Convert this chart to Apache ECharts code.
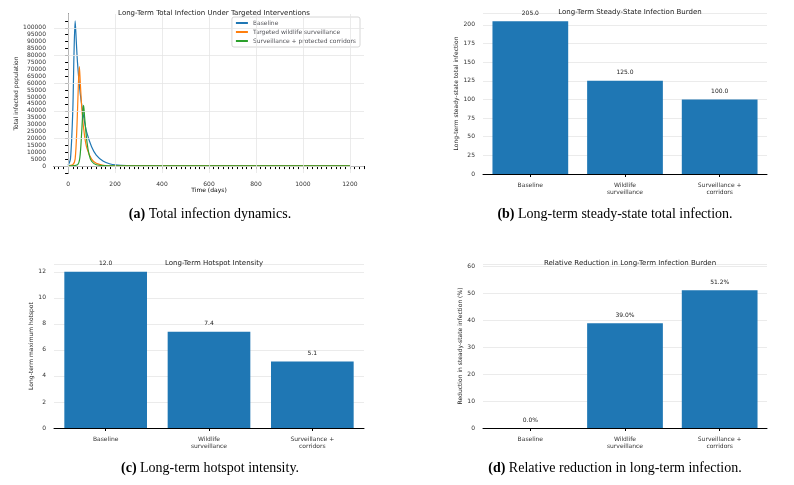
<!DOCTYPE html><html><head><meta charset="utf-8">
<script src="https://cdn.jsdelivr.net/npm/echarts@6/dist/echarts.min.js"></script>
<style>html,body{margin:0;background:#fff}#c{width:794px;height:485px}</style></head><body><div id="c"></div>
<script>
const seriesNames=['Baseline','Targeted wildlife surveillance','Surveillance + protected corridors'];
const baseline=[[0,500],[10,5000],[20,40000],[25,80000],[30,105000],[35,90000],[40,75000],[50,55000],[60,42000],[70,32000],[80,24000],[100,14000],[120,8000],[150,3500],[180,1500],[200,900],[250,300],[300,150],[400,200],[1200,205]];
const wildlife=[[0,200],[20,1000],[30,5000],[38,30000],[44,60000],[48,72000],[52,60000],[60,38000],[70,22000],[80,13000],[100,5000],[120,2000],[150,600],[200,200],[1200,125]];
const corridors=[[0,100],[40,1000],[50,6000],[58,25000],[63,40000],[66,44000],[70,36000],[80,18000],[90,8000],[100,3500],[120,1000],[150,300],[200,120],[1200,100]];
const barCats=['Baseline','Wildlife\nsurveillance','Surveillance +\ncorridors'];
const steady=[205,125,100];
const hotspot=[12.0,7.4,5.1];
const reduction=[0.0,39.0,51.2];
const F='DejaVu Sans';
const ax={axisLine:{lineStyle:{color:'#000'}},axisTick:{lineStyle:{color:'#000'},length:3},axisLabel:{fontSize:6,color:'#333',fontFamily:F}};
const grids=[{left:54,top:14,width:310,height:159},{left:483,top:13,width:284,height:161},{left:54,top:264,width:310,height:164},{left:483,top:264,width:284,height:164}];
const box=grids.map(g=>({show:true,borderColor:'#000',borderWidth:1,...g}));
function valAx(i,min,max,interval,name,fmt){return {type:'value',gridIndex:i,min,max,interval,name,nameLocation:'middle',nameGap:i==0?24:(i==2?20:14),nameTextStyle:{fontSize:6,fontFamily:F,color:'#222'},splitLine:{lineStyle:{color:'#e6e6e6',width:0.8}},...ax,axisLabel:{...ax.axisLabel,formatter:fmt||undefined,showMinLabel:true,showMaxLabel:false}};}
const yAxes=[valAx(0,-5000,110000,20000,'Total infected population'),valAx(1,0,216,25,'Long-term steady-state total infection'),valAx(2,0,12.6,2,'Long-term maximum hotspot'),valAx(3,0,61,10,'Reduction in steady-state infection (%)')];
yAxes[0].axisLabel.formatter=v=>v<0||v>100000?'':v;
yAxes[0].min=-5500;yAxes[0].interval=null;
yAxes[0].min=-5000;
const xAxes=[{type:'value',gridIndex:0,min:-62,max:1260,name:'Time (days)',nameLocation:'middle',nameGap:10,nameTextStyle:{fontSize:6,fontFamily:F},splitLine:{lineStyle:{color:'#e6e6e6',width:0.8}},...ax,axisLabel:{...ax.axisLabel,formatter:v=>(v%200===0&&v>=0&&v<=1200)?v:''},interval:null}];
xAxes[0].min=-60;xAxes[0].interval=20;
xAxes[0].splitLine.show=false;
for(let i=1;i<4;i++)xAxes.push({type:'category',gridIndex:i,data:barCats,...ax,axisTick:{show:true,alignWithLabel:true,length:3,lineStyle:{color:'#000'}},axisLabel:{...ax.axisLabel,lineHeight:7}});
yAxes[0].min=-5000;yAxes[0].interval=5000;
yAxes[0].splitLine.show=false;
const lbl=(fmt)=>({show:true,position:'top',fontSize:6,fontFamily:F,color:'#222',formatter:fmt});
const bar=(i,d,fmt)=>({type:'bar',xAxisIndex:i,yAxisIndex:i,data:d,barWidth:'80%',itemStyle:{color:'#1f77b4'},label:lbl(fmt),silent:true});
const mkVGrid=[];
const opt={animation:false,grid:grids,xAxis:xAxes,yAxis:yAxes,
title:[['Long-Term Total Infection Under Targeted Interventions',209,5],['Long-Term Steady-State Infection Burden',625,4],['Long-Term Hotspot Intensity',209,255],['Relative Reduction in Long-Term Infection Burden',625,255]].map(t=>({text:t[0],left:t[1],top:t[2],textAlign:'center',textStyle:{fontSize:7,fontWeight:'normal',fontFamily:F,color:'#222'}})),
legend:{data:seriesNames,right:434,top:17,orient:'vertical',itemWidth:12,itemHeight:2,itemGap:3,icon:'rect',textStyle:{fontSize:6,fontFamily:F},backgroundColor:'#fff',borderColor:'#ccc',borderWidth:0.8,padding:[3,4],borderRadius:2},
graphic:[
{type:'text',left:'center',x:0,style:{text:''}},
...[[210,214,'(a)',' Total infection dynamics.'],[615,214,'(b)',' Long-term steady-state total infection.'],[210,468,'(c)',' Long-term hotspot intensity.'],[615,468,'(d)',' Relative reduction in long-term infection.']].map(c=>({type:'text',x:c[0],y:c[1],style:{text:'{b|'+c[2]+'}'+c[3],align:'center',verticalAlign:'middle',font:'14px "Liberation Serif"',fill:'#000',rich:{b:{font:'bold 14px "Liberation Serif"',fill:'#000'}}}}))
],
series:[
{name:seriesNames[0],type:'line',xAxisIndex:0,yAxisIndex:0,data:baseline,smooth:0.3,symbol:'none',lineStyle:{width:1.2,color:'#1f77b4'},itemStyle:{color:'#1f77b4'}},
{name:seriesNames[1],type:'line',xAxisIndex:0,yAxisIndex:0,data:wildlife,smooth:0.3,symbol:'none',lineStyle:{width:1.2,color:'#ff7f0e'},itemStyle:{color:'#ff7f0e'}},
{name:seriesNames[2],type:'line',xAxisIndex:0,yAxisIndex:0,data:corridors,smooth:0.3,symbol:'none',lineStyle:{width:1.2,color:'#2ca02c'},itemStyle:{color:'#2ca02c'}},
bar(1,steady,p=>p.value.toFixed(1)),bar(2,hotspot,p=>p.value.toFixed(1)),bar(3,reduction,p=>p.value.toFixed(1)+'%')
]};
// grid lines for panel a at major ticks via markLine
opt.series[0].markLine={silent:true,symbol:'none',label:{show:false},lineStyle:{color:'#e6e6e6',type:'solid',width:0.8},data:[0,200,400,600,800,1000,1200].map(v=>({xAxis:v})).concat([0,20000,40000,60000,80000,100000].map(v=>({yAxis:v})))};
const ch=echarts.init(document.getElementById('c'));
ch.setOption(opt);
ch.setOption({xAxis:[{axisTick:{interval:0,show:true}}]});
</script></body></html>
